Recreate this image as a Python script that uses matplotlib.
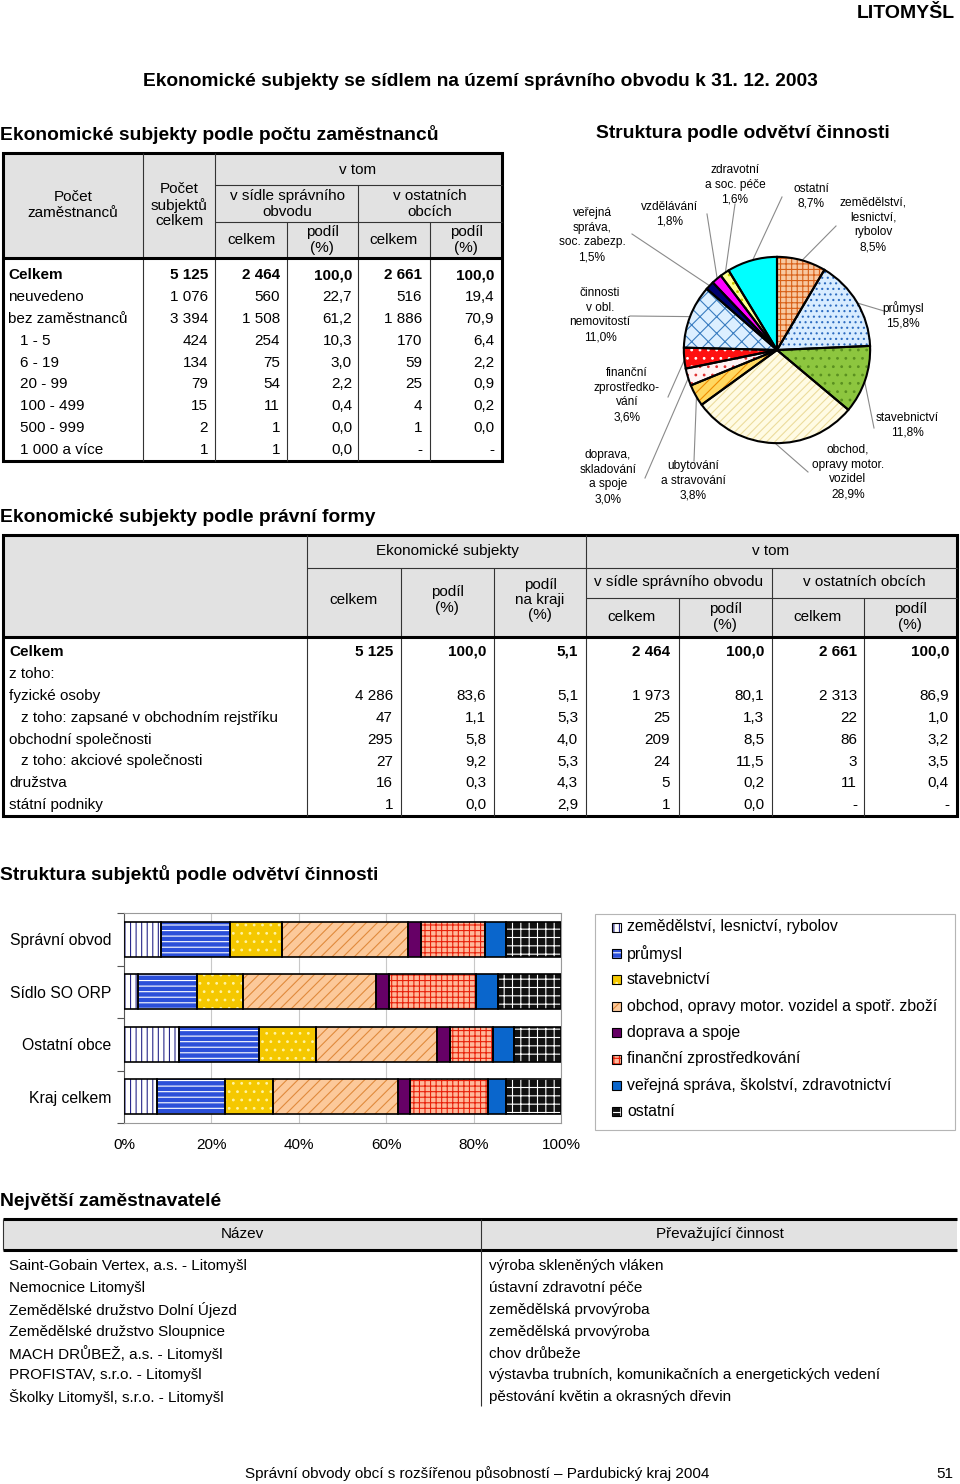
import matplotlib
matplotlib.use('Agg')
import matplotlib.pyplot as plt
import numpy as np
from matplotlib.patches import Rectangle

plt.rcParams['font.family'] = ['Liberation Sans', 'DejaVu Sans']
plt.rcParams['hatch.linewidth'] = 0.8

# ---------------- DATA ----------------
page_title = 'Ekonomické subjekty se sídlem na území správního obvodu k 31. 12. 2003'
town = 'LITOMYŠL'

# Table 1: by number of employees
emp_rows = ['Celkem', 'neuvedeno', 'bez zaměstnanců', '1 - 5', '6 - 19', '20 - 99',
            '100 - 499', '500 - 999', '1 000 a více']
emp_indent = [False, False, False, True, True, True, True, True, True]
emp_total = [5125, 1076, 3394, 424, 134, 79, 15, 2, 1]
emp_seat_n = [2464, 560, 1508, 254, 75, 54, 11, 1, 1]
emp_seat_pct = [100.0, 22.7, 61.2, 10.3, 3.0, 2.2, 0.4, 0.0, 0.0]
emp_other_n = [2661, 516, 1886, 170, 59, 25, 4, 1, None]
emp_other_pct = [100.0, 19.4, 70.9, 6.4, 2.2, 0.9, 0.2, 0.0, None]

# Table 2: by legal form ('' = blank, None = '-')
legal_rows = ['Celkem', 'z toho:', 'fyzické osoby', 'z toho: zapsané v obchodním rejstříku',
              'obchodní společnosti', 'z toho: akciové společnosti', 'družstva', 'státní podniky']
legal_indent = [False, False, False, True, False, True, False, False]
legal_total = [5125, '', 4286, 47, 295, 27, 16, 1]
legal_pct = [100.0, '', 83.6, 1.1, 5.8, 9.2, 0.3, 0.0]
legal_kraj = [5.1, '', 5.1, 5.3, 4.0, 5.3, 4.3, 2.9]
legal_seat_n = [2464, '', 1973, 25, 209, 24, 5, 1]
legal_seat_pct = [100.0, '', 80.1, 1.3, 8.5, 11.5, 0.2, 0.0]
legal_other_n = [2661, '', 2313, 22, 86, 3, 11, None]
legal_other_pct = [100.0, '', 86.9, 1.0, 3.2, 3.5, 0.4, None]

# Pie: structure by branch
pie_labels = ['zemědělství,\nlesnictví,\nrybolov', 'průmysl', 'stavebnictví',
              'obchod,\nopravy motor.\nvozidel', 'ubytování\na stravování',
              'doprava,\nskladování\na spoje', 'finanční\nzprostředko-\nvání',
              'činnosti\nv obl.\nnemovitostí', 'veřejná\nspráva,\nsoc. zabezp.',
              'vzdělávání', 'zdravotní\na soc. péče', 'ostatní']
pie_values = [8.5, 15.8, 11.8, 28.9, 3.8, 3.0, 3.6, 11.0, 1.5, 1.8, 1.6, 8.7]

# Stacked bar: structure of subjects by branch (%)
bar_categories = ['Správní obvod', 'Sídlo SO ORP', 'Ostatní obce', 'Kraj celkem']
bar_series = ['zemědělství, lesnictví, rybolov', 'průmysl', 'stavebnictví',
              'obchod, opravy motor. vozidel a spotř. zboží', 'doprava a spoje',
              'finanční zprostředkování', 'veřejná správa, školství, zdravotnictví', 'ostatní']
share_zem = [8.5, 3.1, 12.7, 7.5]
share_prum = [15.8, 13.7, 18.2, 15.5]
share_stav = [11.8, 10.4, 13.0, 11.2]
share_obch = [28.9, 30.4, 27.7, 28.5]
share_dopr = [3.0, 3.0, 3.0, 2.8]
share_fin = [14.6, 20.0, 9.8, 17.7]
share_vs = [4.9, 4.9, 4.8, 4.1]
share_ost = [12.5, 14.5, 10.8, 12.7]
bar_ticks = [0, 20, 40, 60, 80, 100]

# Table 3: largest employers
employer_names = ['Saint-Gobain Vertex, a.s. - Litomyšl', 'Nemocnice Litomyšl',
                  'Zemědělské družstvo Dolní Újezd', 'Zemědělské družstvo Sloupnice',
                  'MACH DRŮBEŽ, a.s. - Litomyšl', 'PROFISTAV, s.r.o. - Litomyšl',
                  'Školky Litomyšl, s.r.o. - Litomyšl']
employer_activity = ['výroba skleněných vláken', 'ústavní zdravotní péče',
                     'zemědělská prvovýroba', 'zemědělská prvovýroba', 'chov drůbeže',
                     'výstavba trubních, komunikačních a energetických vedení',
                     'pěstování květin a okrasných dřevin']

footer = 'Správní obvody obcí s rozšířenou působností – Pardubický kraj 2004'
page_no = '51'


# ---------------- helpers ----------------
def fmt_int(v):
    if v is None:
        return '-'
    if v == '':
        return ''
    return f'{v:,}'.replace(',', ' ')


def fmt_dec(v):
    if v is None:
        return '-'
    if v == '':
        return ''
    return f'{v:.1f}'.replace('.', ',')


W, H = 960, 1484
fig = plt.figure(figsize=(W / 100, H / 100), dpi=100)
bg = fig.add_axes([0, 0, 1, 1])
bg.set_xlim(0, W)
bg.set_ylim(H, 0)
bg.axis('off')


def ax_at(x0, y0, x1, y1):
    return fig.add_axes([x0 / W, 1 - y1 / H, (x1 - x0) / W, (y1 - y0) / H])


def hline(x0, x1, y, lw=0.8, c='#333333'):
    bg.plot([x0, x1], [y, y], color=c, lw=lw, solid_capstyle='butt')


def vline(x, y0, y1, lw=0.8, c='#333333'):
    bg.plot([x, x], [y0, y1], color=c, lw=lw, solid_capstyle='butt')


GRAY = '#e2e2e2'
FS = 11
TFS = 13.9
LS = 1.12

# ---------------- titles ----------------
bg.text(955, 13, town, ha='right', va='center', fontsize=14, fontweight='bold')
bg.text(480, 81, page_title, ha='center', va='center', fontsize=13.8, fontweight='bold')
bg.text(0, 134, 'Ekonomické subjekty podle počtu zaměstnanců', ha='left', va='center',
        fontsize=TFS, fontweight='bold')
bg.text(596, 134, 'Struktura podle odvětví činnosti', ha='left', va='center',
        fontsize=TFS, fontweight='bold')
bg.text(0, 517, 'Ekonomické subjekty podle právní formy', ha='left', va='center',
        fontsize=TFS, fontweight='bold')
bg.text(0, 874, 'Struktura subjektů podle odvětví činnosti', ha='left', va='center',
        fontsize=TFS, fontweight='bold')
bg.text(0, 1201, 'Největší zaměstnavatelé', ha='left', va='center',
        fontsize=TFS, fontweight='bold')

# ---------------- table 1 ----------------
t1_top, t1_hb, t1_bot = 153, 258, 461
bg.add_patch(Rectangle((3, t1_top), 499, t1_hb - t1_top, facecolor=GRAY, edgecolor='none'))
vline(143, t1_top, t1_bot)
vline(215, t1_top, t1_bot)
vline(358, 185, t1_bot)
vline(287, 222, t1_bot)
vline(430, 222, t1_bot)
hline(215, 502, 185)
hline(215, 502, 222)
hline(3, 502, t1_hb, lw=2.2, c='black')
bg.add_patch(Rectangle((3, t1_top), 499, t1_bot - t1_top, fill=False, edgecolor='black', lw=2.2))

bg.text(73, 205, 'Počet\nzaměstnanců', ha='center', va='center', fontsize=FS, linespacing=LS)
bg.text(179, 205, 'Počet\nsubjektů\ncelkem', ha='center', va='center', fontsize=FS, linespacing=LS)
bg.text(358, 170, 'v tom', ha='center', va='center', fontsize=FS)
bg.text(287, 204, 'v sídle správního\nobvodu', ha='center', va='center', fontsize=FS, linespacing=LS)
bg.text(430, 204, 'v ostatních\nobcích', ha='center', va='center', fontsize=FS, linespacing=LS)
for xc, lab in [(251, 'celkem'), (322, 'podíl\n(%)'), (394, 'celkem'), (466, 'podíl\n(%)')]:
    bg.text(xc, 240, lab, ha='center', va='center', fontsize=FS, linespacing=LS)

t1_cols = [emp_total, emp_seat_n, emp_seat_pct, emp_other_n, emp_other_pct]
t1_fmt = [fmt_int, fmt_int, fmt_dec, fmt_int, fmt_dec]
t1_right = [208, 280, 352, 422, 494]
for i, name in enumerate(emp_rows):
    y = 275 + i * 21.9
    w = 'bold' if i == 0 else 'normal'
    bg.text(20 if emp_indent[i] else 8, y, name, ha='left', va='center', fontsize=FS, fontweight=w)
    for col, f, xr in zip(t1_cols, t1_fmt, t1_right):
        bg.text(xr, y, f(col[i]), ha='right', va='center', fontsize=FS, fontweight=w)

# ---------------- table 2 ----------------
t2_top, t2_hb, t2_bot = 535, 637, 816
bg.add_patch(Rectangle((3, t2_top), 954, t2_hb - t2_top, facecolor=GRAY, edgecolor='none'))
vline(307, t2_top, t2_bot)
vline(586, t2_top, t2_bot)
for x in [401, 494, 772]:
    vline(x, 568, t2_bot)
for x in [679, 864]:
    vline(x, 598, t2_bot)
hline(307, 957, 568)
hline(586, 957, 598)
hline(3, 957, t2_hb, lw=2.2, c='black')
bg.add_patch(Rectangle((3, t2_top), 954, t2_bot - t2_top, fill=False, edgecolor='black', lw=2.2))

bg.text(447, 551, 'Ekonomické subjekty', ha='center', va='center', fontsize=FS)
bg.text(771, 551, 'v tom', ha='center', va='center', fontsize=FS)
bg.text(354, 600, 'celkem', ha='center', va='center', fontsize=FS)
bg.text(447, 600, 'podíl\n(%)', ha='center', va='center', fontsize=FS, linespacing=LS)
bg.text(540, 600, 'podíl\nna kraji\n(%)', ha='center', va='center', fontsize=FS, linespacing=LS)
bg.text(679, 582, 'v sídle správního obvodu', ha='center', va='center', fontsize=FS)
bg.text(864, 582, 'v ostatních obcích', ha='center', va='center', fontsize=FS)
for xc, lab in [(632, 'celkem'), (725, 'podíl\n(%)'), (818, 'celkem'), (910, 'podíl\n(%)')]:
    bg.text(xc, 617, lab, ha='center', va='center', fontsize=FS, linespacing=LS)

t2_cols = [legal_total, legal_pct, legal_kraj, legal_seat_n, legal_seat_pct,
           legal_other_n, legal_other_pct]
t2_fmt = [fmt_int, fmt_dec, fmt_dec, fmt_int, fmt_dec, fmt_int, fmt_dec]
t2_right = [393, 486, 578, 670, 764, 857, 949]
for i, name in enumerate(legal_rows):
    y = 652 + i * 21.9
    w = 'bold' if i == 0 else 'normal'
    bg.text(21 if legal_indent[i] else 9, y, name, ha='left', va='center', fontsize=FS, fontweight=w)
    for col, f, xr in zip(t2_cols, t2_fmt, t2_right):
        bg.text(xr, y, f(col[i]), ha='right', va='center', fontsize=FS, fontweight=w)

# ---------------- pie ----------------
PCX, PCY, PR = 777, 350, 95
pie_ax = ax_at(PCX - PR, PCY - PR, PCX + PR, PCY + PR)
pie_face = ['#f8c8a0', '#d8ecff', '#8dc63f', '#fffbe4', '#ffd860', '#fff4f4',
            '#ff1010', '#dcefff', '#000070', '#ff00ff', '#ffff90', '#00ffff']
pie_hatch = ['+++', '...', '..', '////', '///', '..', '..', 'xx', None, None, '..', None]
pie_hcol = ['#d86018', '#2d6cc0', '#5a9020', '#ecdc9c', '#f08c00', '#e03030',
            '#ffffff', '#3a7dc0', '#000070', '#ff00ff', '#c8c800', '#00ffff']
wedges, _ = pie_ax.pie(pie_values, startangle=90, counterclock=False, colors=pie_face,
                       radius=1.0, wedgeprops=dict(linewidth=0))
for wdg, h, hc in zip(wedges, pie_hatch, pie_hcol):
    if h:
        wdg.set_hatch(h)
        wdg.set_edgecolor(hc)
pie_ax.pie(pie_values, startangle=90, counterclock=False, radius=1.0,
           wedgeprops=dict(fill=False, edgecolor='black', linewidth=1.5))
pie_ax.set_xlim(-1.02, 1.02)
pie_ax.set_ylim(-1.02, 1.02)
pie_ax.set_aspect('equal')
pie_ax.axis('off')

pie_text_pos = [(873, 225), (903, 315), (907, 425), (848, 472), (693, 481), (608, 477),
                (627, 395), (600, 315), (592, 235), (670, 214), (735, 185), (811, 196)]
pie_line_start = [(836, 226), (884, 311), (874, 428), (808, 472), (694, 461), (645, 478),
                  (668, 397), (630, 316), (632, 234), (707, 214), (735, 204), (782, 197)]
cum = np.cumsum([0] + pie_values[:-1])
for i, (lab, v) in enumerate(zip(pie_labels, pie_values)):
    mid = np.deg2rad(90 - 360 * (cum[i] + v / 2) / 100.0)
    ex, ey = PCX + PR * 0.97 * np.cos(mid), PCY - PR * 0.97 * np.sin(mid)
    sx, sy = pie_line_start[i]
    bg.plot([sx, ex], [sy, ey], color='#8a8a8a', lw=0.8, zorder=1)
    tx, ty = pie_text_pos[i]
    pct = f'{v:.1f}%'.replace('.', ',')
    bg.text(tx, ty, lab + '\n' + pct, ha='center', va='center', fontsize=8.6,
            linespacing=1.3, zorder=3)

# ---------------- stacked bar ----------------
bar_ax = ax_at(124, 913, 561, 1123)
bar_data = [share_zem, share_prum, share_stav, share_obch, share_dopr, share_fin, share_vs, share_ost]
bar_face = ['#ffffff', '#2b4fd9', '#f5c800', '#fcc99a', '#660066', '#ffb89a', '#0a66cc', '#111111']
bar_hatch = ['|||', '---', '..', '///', None, '+++', None, '++']
bar_hcol = ['#28288a', '#ffffff', '#fff3a0', '#e08a3c', '#660066', '#e8200a', '#0a66cc', '#ffffff']
ypos = np.arange(len(bar_categories))
left = np.zeros(len(bar_categories))
for vals, fc, h, hc in zip(bar_data, bar_face, bar_hatch, bar_hcol):
    vals = np.array(vals)
    bar_ax.barh(ypos, vals, left=left, height=0.67, color=fc, hatch=h, edgecolor=hc,
                linewidth=0, zorder=2)
    bar_ax.barh(ypos, vals, left=left, height=0.67, fill=False, edgecolor='black',
                linewidth=1.2, zorder=3)
    left += vals
bar_ax.set_xlim(0, 100)
bar_ax.set_ylim(len(bar_categories) - 0.5, -0.5)
bar_ax.set_xticks(bar_ticks)
bar_ax.set_xticklabels([f'{t}%' for t in bar_ticks], fontsize=11)
bar_ax.set_yticks(ypos)
bar_ax.set_yticklabels(bar_categories, fontsize=11.3)
bar_ax.set_yticks(np.arange(-0.5, len(bar_categories)), minor=True)
bar_ax.tick_params(axis='y', which='major', length=0, pad=9)
bar_ax.tick_params(axis='y', which='minor', length=5, color='#555555', width=0.8)
bar_ax.tick_params(axis='x', length=0, pad=11)
bar_ax.grid(axis='x', color='#c8c8c8', lw=0.8, zorder=0)
bar_ax.set_axisbelow(True)
for s in ['top', 'right', 'bottom']:
    bar_ax.spines[s].set_color('#9a9a9a')
    bar_ax.spines[s].set_linewidth(0.8)
bar_ax.spines['left'].set_color('#555555')
bar_ax.spines['left'].set_linewidth(0.8)

# legend (drawn manually)
bg.add_patch(Rectangle((595, 914), 360, 216, fill=False, edgecolor='#b5b5b5', lw=0.8))
for i, (name, fc, h, hc) in enumerate(zip(bar_series, bar_face, bar_hatch, bar_hcol)):
    y = 927 + i * 26.4
    bg.add_patch(Rectangle((612, y - 4.5), 9, 9, facecolor=fc, hatch=h, edgecolor=hc, lw=0))
    bg.add_patch(Rectangle((612, y - 4.5), 9, 9, fill=False, edgecolor='black', lw=0.8))
    bg.text(627, y, name, ha='left', va='center', fontsize=11.4)

# ---------------- table 3 ----------------
bg.add_patch(Rectangle((3, 1219), 954, 31, facecolor=GRAY, edgecolor='none'))
hline(3, 957, 1219, lw=2.2, c='black')
hline(3, 957, 1250, lw=2.2, c='black')
vline(481, 1219, 1406)
vline(3, 1219, 1250)
bg.text(242, 1234, 'Název', ha='center', va='center', fontsize=FS)
bg.text(720, 1234, 'Převažující činnost', ha='center', va='center', fontsize=FS)
for i, (n, a) in enumerate(zip(employer_names, employer_activity)):
    y = 1266 + i * 21.9
    bg.text(9, y, n, ha='left', va='center', fontsize=FS)
    bg.text(489, y, a, ha='left', va='center', fontsize=FS)

# ---------------- footer ----------------
bg.text(477, 1474, footer, ha='center', va='center', fontsize=11)
bg.text(953, 1474, page_no, ha='right', va='center', fontsize=11)

fig.savefig('out.png', dpi=100)
